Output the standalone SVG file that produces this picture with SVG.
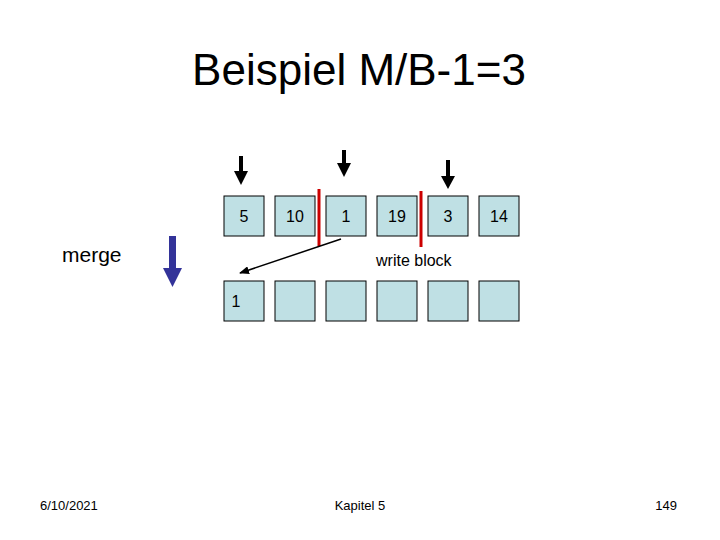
<svg xmlns="http://www.w3.org/2000/svg" width="720" height="540" viewBox="0 0 720 540">
<style>
text{font-family:"Liberation Sans",Arial,sans-serif;fill:#000}
.box rect{fill:#bfe0e4;stroke:#000;stroke-width:1}
.box text{font-size:16px;text-anchor:middle}
.red{stroke:#cc0000;stroke-width:3}
.foot{font-size:13px}
</style>
<defs>
<marker id="ah" markerWidth="10" markerHeight="8" refX="9" refY="4" orient="auto" markerUnits="userSpaceOnUse">
<path d="M0,0 L10,4 L0,8 z" fill="#000"/>
</marker>
</defs>
<rect width="720" height="540" fill="#fff"/>
<text x="359" y="85" font-size="44" text-anchor="middle">Beispiel M/B-1=3</text>

<g id="top-row">
<g id="t1" class="box"><rect x="224" y="196" width="40" height="40"/><text x="244" y="222">5</text></g>
<g id="t2" class="box"><rect x="275" y="196" width="40" height="40"/><text x="295" y="222">10</text></g>
<g id="t3" class="box"><rect x="326" y="196" width="40" height="40"/><text x="346" y="222">1</text></g>
<g id="t4" class="box"><rect x="377" y="196" width="40" height="40"/><text x="397" y="222">19</text></g>
<g id="t5" class="box"><rect x="428" y="196" width="40" height="40"/><text x="448" y="222">3</text></g>
<g id="t6" class="box"><rect x="479" y="196" width="40" height="40"/><text x="499" y="222">14</text></g>
</g>

<g id="bottom-row">
<g id="b1" class="box"><rect x="224" y="281" width="40" height="40"/><text x="236" y="307">1</text></g>
<g id="b2" class="box"><rect x="275" y="281" width="40" height="40"/></g>
<g id="b3" class="box"><rect x="326" y="281" width="40" height="40"/></g>
<g id="b4" class="box"><rect x="377" y="281" width="40" height="40"/></g>
<g id="b5" class="box"><rect x="428" y="281" width="40" height="40"/></g>
<g id="b6" class="box"><rect x="479" y="281" width="40" height="40"/></g>
</g>

<g id="separators">
<line class="red" x1="319" y1="189" x2="319" y2="246"/>
<line class="red" x1="421" y1="191" x2="421" y2="247"/>
</g>

<g id="connectors">
<g fill="#000">
<rect x="239" y="156" width="4" height="16"/><polygon points="234,171 248,171 241,185"/>
<rect x="342" y="150" width="4" height="14"/><polygon points="337,163 351,163 344,177"/>
<rect x="446" y="160" width="4" height="17"/><polygon points="441,176 455,176 448,189"/>
</g>
<g fill="#333399">
<rect x="169" y="236" width="7" height="33"/><polygon points="163,268 182,268 172.5,287"/>
</g>
<line x1="341" y1="239" x2="240" y2="273" stroke="#000" stroke-width="1.5" marker-end="url(#ah)"/>
</g>

<text x="62" y="262" font-size="21">merge</text>
<text x="376" y="266" font-size="16">write block</text>

<text class="foot" x="40" y="510">6/10/2021</text>
<text class="foot" x="360" y="510" text-anchor="middle">Kapitel 5</text>
<text class="foot" x="677" y="510" text-anchor="end">149</text>
</svg>
